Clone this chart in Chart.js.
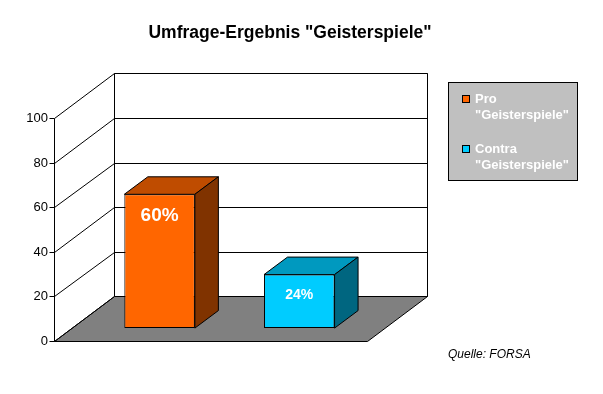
<!DOCTYPE html>
<html>
<head>
<meta charset="utf-8">
<title>Umfrage-Ergebnis "Geisterspiele"</title>
<script src="https://cdn.jsdelivr.net/npm/chart.js@4"></script>
<style>
  html, body { margin: 0; padding: 0; background: #fff; }
  #wrap { width: 603px; height: 394px; }
</style>
</head>
<body>
<div id="wrap"><canvas id="surveyChart"></canvas></div>
<script>
const categories = [["Pro", "\"Geisterspiele\""], ["Contra", "\"Geisterspiele\""]];
const values = [60, 24];
const valueLabels = ["60%", "24%"];
const yTicks = [0, 20, 40, 60, 80, 100];

const chartTitle = 'Umfrage-Ergebnis "Geisterspiele"';
const sourceNote = "Quelle: FORSA";

const FONT = '"Liberation Sans", Arial, sans-serif';
const frontColors = ["#ff6600", "#00ccff"];
const topColors = ["#bf4c00", "#0099bf"];
const sideColors = ["#803300", "#006680"];
const labelSizes = [19, 14];

// fake 3d: how far the back wall sits, and where the bars stand on the floor
const wallDx = 60, wallDy = -44.6;
const barFrontDx = 18, barFrontDy = -13.4;
const barDepthDx = 23.5, barDepthDy = -17.5;
const floorPad = 16.8;

function snap(v) {
  return Math.round(v - 0.5) + 0.5;
}

function poly(ctx, pts, fill) {
  ctx.beginPath();
  ctx.moveTo(pts[0][0], pts[0][1]);
  for (let i = 1; i < pts.length; i++) ctx.lineTo(pts[i][0], pts[i][1]);
  ctx.closePath();
  if (fill) {
    ctx.fillStyle = fill;
    ctx.fill();
  }
  ctx.stroke();
}

const walls3d = {
  id: "walls3d",
  beforeDatasetsDraw(chart) {
    const { ctx, chartArea, scales } = chart;
    const y = scales.y;
    const fl = snap(chartArea.left - floorPad);
    const fr = snap(chartArea.right + floorPad);
    const bl = fl + wallDx;
    const br = fr + wallDx;
    const front = (v) => snap(y.getPixelForValue(v));
    const back = (v) => snap(y.getPixelForValue(v) + wallDy);

    ctx.save();
    ctx.lineWidth = 1;
    ctx.strokeStyle = "#000";

    // floor
    poly(ctx, [[fl, front(0)], [fr, front(0)], [br, back(0)], [bl, back(0)]], "#808080");

    // back wall outline + grid
    ctx.beginPath();
    ctx.moveTo(bl, back(0));
    ctx.lineTo(bl, back(100));
    ctx.lineTo(br, back(100));
    ctx.lineTo(br, back(0));
    ctx.stroke();

    yTicks.forEach((v) => {
      ctx.beginPath();
      ctx.moveTo(bl, back(v));
      ctx.lineTo(br, back(v));
      ctx.moveTo(fl, front(v));
      ctx.lineTo(bl, back(v));
      ctx.moveTo(fl - 5, front(v));
      ctx.lineTo(fl, front(v));
      ctx.stroke();
    });

    // front value axis
    ctx.beginPath();
    ctx.moveTo(fl, front(0));
    ctx.lineTo(fl, front(100));
    ctx.stroke();
    ctx.restore();

    // bars get drawn by chart.js, pushed into the floor
    ctx.save();
    ctx.translate(barFrontDx, barFrontDy);
  },
  afterDatasetsDraw(chart) {
    const { ctx } = chart;
    ctx.restore();

    const meta = chart.getDatasetMeta(0);
    ctx.save();
    ctx.lineWidth = 1;
    ctx.strokeStyle = "#000";
    meta.data.forEach((bar, i) => {
      const p = bar.getProps(["x", "y", "base", "width"], true);
      const L = p.x - p.width / 2 + barFrontDx;
      const R = p.x + p.width / 2 + barFrontDx;
      const T = p.y + barFrontDy;
      const B = p.base + barFrontDy;

      poly(ctx, [[L, T], [L + barDepthDx, T + barDepthDy], [R + barDepthDx, T + barDepthDy], [R, T]], topColors[i]);
      poly(ctx, [[R, T], [R + barDepthDx, T + barDepthDy], [R + barDepthDx, B + barDepthDy], [R, B]], sideColors[i]);

      ctx.fillStyle = "#fff";
      ctx.font = `bold ${labelSizes[i]}px ${FONT}`;
      ctx.textAlign = "center";
      ctx.textBaseline = "alphabetic";
      ctx.fillText(valueLabels[i], p.x + barFrontDx, T + 19 + 0.38 * labelSizes[i]);
    });
    ctx.restore();
  },
  afterDraw(chart) {
    const { ctx } = chart;
    ctx.save();

    ctx.fillStyle = "#000";
    ctx.textAlign = "center";
    ctx.textBaseline = "alphabetic";
    ctx.font = `bold 17.5px ${FONT}`;
    ctx.fillText(chartTitle, 290, 38);

    ctx.textAlign = "left";
    ctx.font = `italic 12px ${FONT}`;
    ctx.fillText(sourceNote, 448, 358);

    // legend box
    ctx.lineWidth = 1;
    ctx.strokeStyle = "#000";
    ctx.fillStyle = "#c0c0c0";
    ctx.fillRect(448.5, 82.5, 129, 98);
    ctx.strokeRect(448.5, 82.5, 129, 98);

    ctx.font = `bold 13px ${FONT}`;
    categories.forEach((lines, i) => {
      const top = 95.5 + i * 50;
      ctx.fillStyle = frontColors[i];
      ctx.fillRect(462.5, top, 7, 7);
      ctx.strokeRect(462.5, top, 7, 7);
      ctx.fillStyle = "#fff";
      lines.forEach((line, j) => {
        ctx.fillText(line, 475, top + 7 + j * 16.5);
      });
    });
    ctx.restore();
  },
};

new Chart(document.getElementById("surveyChart"), {
  type: "bar",
  data: {
    labels: categories,
    datasets: [
      {
        data: values,
        backgroundColor: frontColors,
        borderColor: "#000",
        borderWidth: 1,
        borderSkipped: false,
        categoryPercentage: 1,
        barPercentage: 0.505,
        clip: false,
      },
    ],
  },
  options: {
    responsive: true,
    maintainAspectRatio: false,
    animation: false,
    devicePixelRatio: 1,
    layout: {
      padding: { top: 118.5, bottom: 52.5, left: 0, right: 251.85 },
    },
    scales: {
      x: { display: false, offset: true },
      y: {
        min: 0,
        max: 100,
        afterBuildTicks(scale) {
          scale.ticks = yTicks.map((v) => ({ value: v }));
        },
        afterFit(scale) {
          scale.width = 71.75;
        },
        grid: { display: false },
        border: { display: false },
        ticks: {
          padding: 15.75,
          color: "#000",
          font: { family: FONT, size: 13 },
        },
      },
    },
    plugins: {
      legend: { display: false },
      title: { display: false },
      tooltip: { enabled: false },
    },
  },
  plugins: [walls3d],
});
</script>
</body>
</html>
